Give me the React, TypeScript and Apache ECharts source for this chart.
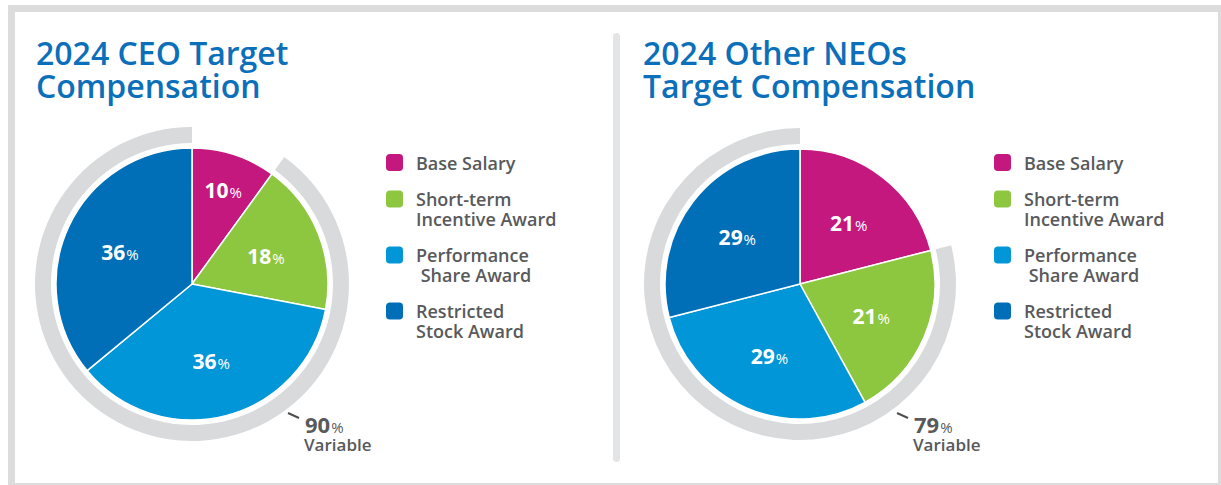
import React, { useEffect, useRef } from "react";
import * as echarts from "echarts";

// ---- data ----
const categories = [
  "Base Salary",
  "Short-term\nIncentive Award",
  "Performance\n Share Award",
  "Restricted\nStock Award",
];
const ceoValues = [10, 18, 36, 36];
const neoValues = [21, 21, 29, 29];
const ceoTitle = "2024 CEO Target\nCompensation";
const neoTitle = "2024 Other NEOs\nTarget Compensation";
const variableText = "Variable";

// ---- styles ----
const FONT = "'Open Sans', 'Noto Sans', sans-serif";
const COLORS = ["#c4187f", "#8dc63f", "#0096d7", "#006fb8"];
const RING = "#d9dadc";
const TEXT = "#58595b";
const BLUE = "#0b6fba";

const W = 1221;
const H = 485;

const pies = [
  { values: ceoValues, title: ceoTitle, center: [192, 284], r: 136, titleX: 36, legendX: 384, note: [288, 413] },
  { values: neoValues, title: neoTitle, center: [800, 284], r: 135, titleX: 643, legendX: 992, note: [897, 413] },
];

export default function App() {
  const ref = useRef<HTMLDivElement>(null);
  useEffect(() => {
    if (!ref.current) return;
    const chart = echarts.init(ref.current, undefined, { renderer: "svg" });

    const series: any[] = [];
    pies.forEach((p, i) => {
      const base = p.values[0];
      const variable = p.values.slice(1).reduce((a, b) => a + b, 0);
      series.push({
        type: "pie",
        name: "ring" + i,
        silent: true,
        center: p.center,
        radius: [p.r + 5, p.r + 21],
        startAngle: 90,
        clockwise: true,
        label: { show: false },
        labelLine: { show: false },
        data: [
          { name: "fixed" + i, value: base, itemStyle: { color: "rgba(0,0,0,0)" } },
          { name: "variable" + i, value: variable, itemStyle: { color: RING } },
        ],
        z: 1,
      });
      series.push({
        type: "pie",
        name: "pie" + i,
        center: p.center,
        radius: [0, p.r],
        startAngle: 90,
        clockwise: true,
        silent: true,
        itemStyle: { borderColor: "#ffffff", borderWidth: 1.5 },
        label: {
          show: true,
          position: "inside",
          formatter: "{n|{c}}{p|%}",
          rich: {
            n: { fontFamily: FONT, fontSize: 21, fontWeight: 700, color: "#fff", lineHeight: 24, verticalAlign: "bottom" },
            p: { fontFamily: FONT, fontSize: 15, fontWeight: 400, color: "#fff", lineHeight: 24, verticalAlign: "bottom", padding: [0, 0, 1, 1] },
          },
        },
        labelLine: { show: false },
        labelLayout: (prm: any) => {
          const lr = prm.labelRect;
          const lx = lr.x + lr.width / 2;
          const ly = lr.y + lr.height / 2;
          const dx = lx - p.center[0];
          const dy = ly - p.center[1];
          const d = Math.hypot(dx, dy) || 1;
          const v = p.values[prm.dataIndex];
          const frac = v < 15 ? 0.73 : 0.58;
          const t = p.r * frac;
          return { dx: (dx / d) * t - dx, dy: (dy / d) * t - dy };
        },
        data: categories.map((c, k) => ({ name: c, value: p.values[k], itemStyle: { color: COLORS[k] } })),
        z: 2,
      });
    });

    const graphic: any[] = [
      { type: "rect", shape: { x: 8, y: 5, width: W - 8, height: H - 5 }, style: { fill: "#dcdcdc" }, z: -10 },
      { type: "rect", shape: { x: 15, y: 12, width: W - 18, height: H - 14 }, style: { fill: "#ffffff" }, z: -9 },
      { type: "rect", shape: { x: 613, y: 33, width: 7, height: 429, r: 3.5 }, style: { fill: "#e3e4e6" }, z: -8 },
    ];
    pies.forEach((p) => {
      const variable = p.values.slice(1).reduce((a, b) => a + b, 0);
      const [nx, ny] = p.note;
      graphic.push({
        type: "line",
        shape: { x1: nx, y1: ny, x2: nx + 11, y2: ny + 5 },
        style: { stroke: "#4d4e50", lineWidth: 2 },
      });
      graphic.push({
        type: "text",
        x: nx + 17,
        y: ny + 22,
        style: {
          text: `{n|${variable}}{p|%}`,
          verticalAlign: "bottom",
          rich: {
            n: { fontFamily: FONT, fontSize: 22, fontWeight: 700, fill: TEXT, lineHeight: 24, verticalAlign: "bottom" },
            p: { fontFamily: FONT, fontSize: 15, fontWeight: 400, fill: TEXT, lineHeight: 24, verticalAlign: "bottom", padding: [0, 0, 1, 1] },
          },
        },
      });
      graphic.push({
        type: "text",
        x: nx + 16,
        y: ny + 40,
        style: {
          text: variableText,
          fontFamily: FONT,
          fontSize: 17,
          fontWeight: 600,
          fill: TEXT,
          verticalAlign: "bottom",
        },
      });
    });

    chart.setOption({
      animation: false,
      title: pies.map((p) => ({
        text: p.title,
        left: p.titleX,
        top: 36,
        padding: 0,
        textStyle: { fontFamily: FONT, fontSize: 32, fontWeight: 600, color: BLUE, lineHeight: 33 },
      })),
      legend: pies.map((p) => ({
        orient: "vertical",
        left: p.legendX,
        top: 152,
        padding: 0,
        itemGap: -4,
        itemWidth: 19,
        itemHeight: 19,
        icon: "roundRect",
        selectedMode: false,
        data: categories,
        formatter: (name: string) => (name.includes("\n") ? "\n" + name : name),
        textStyle: { fontFamily: FONT, fontSize: 18, fontWeight: 600, color: TEXT, lineHeight: 20, padding: [0, 0, 0, 7] },
      })),
      graphic,
      series,
    });
    return () => chart.dispose();
  }, []);
  return <div ref={ref} style={{ position: "absolute", left: 0, top: 0, width: W, height: H }} />;
}
